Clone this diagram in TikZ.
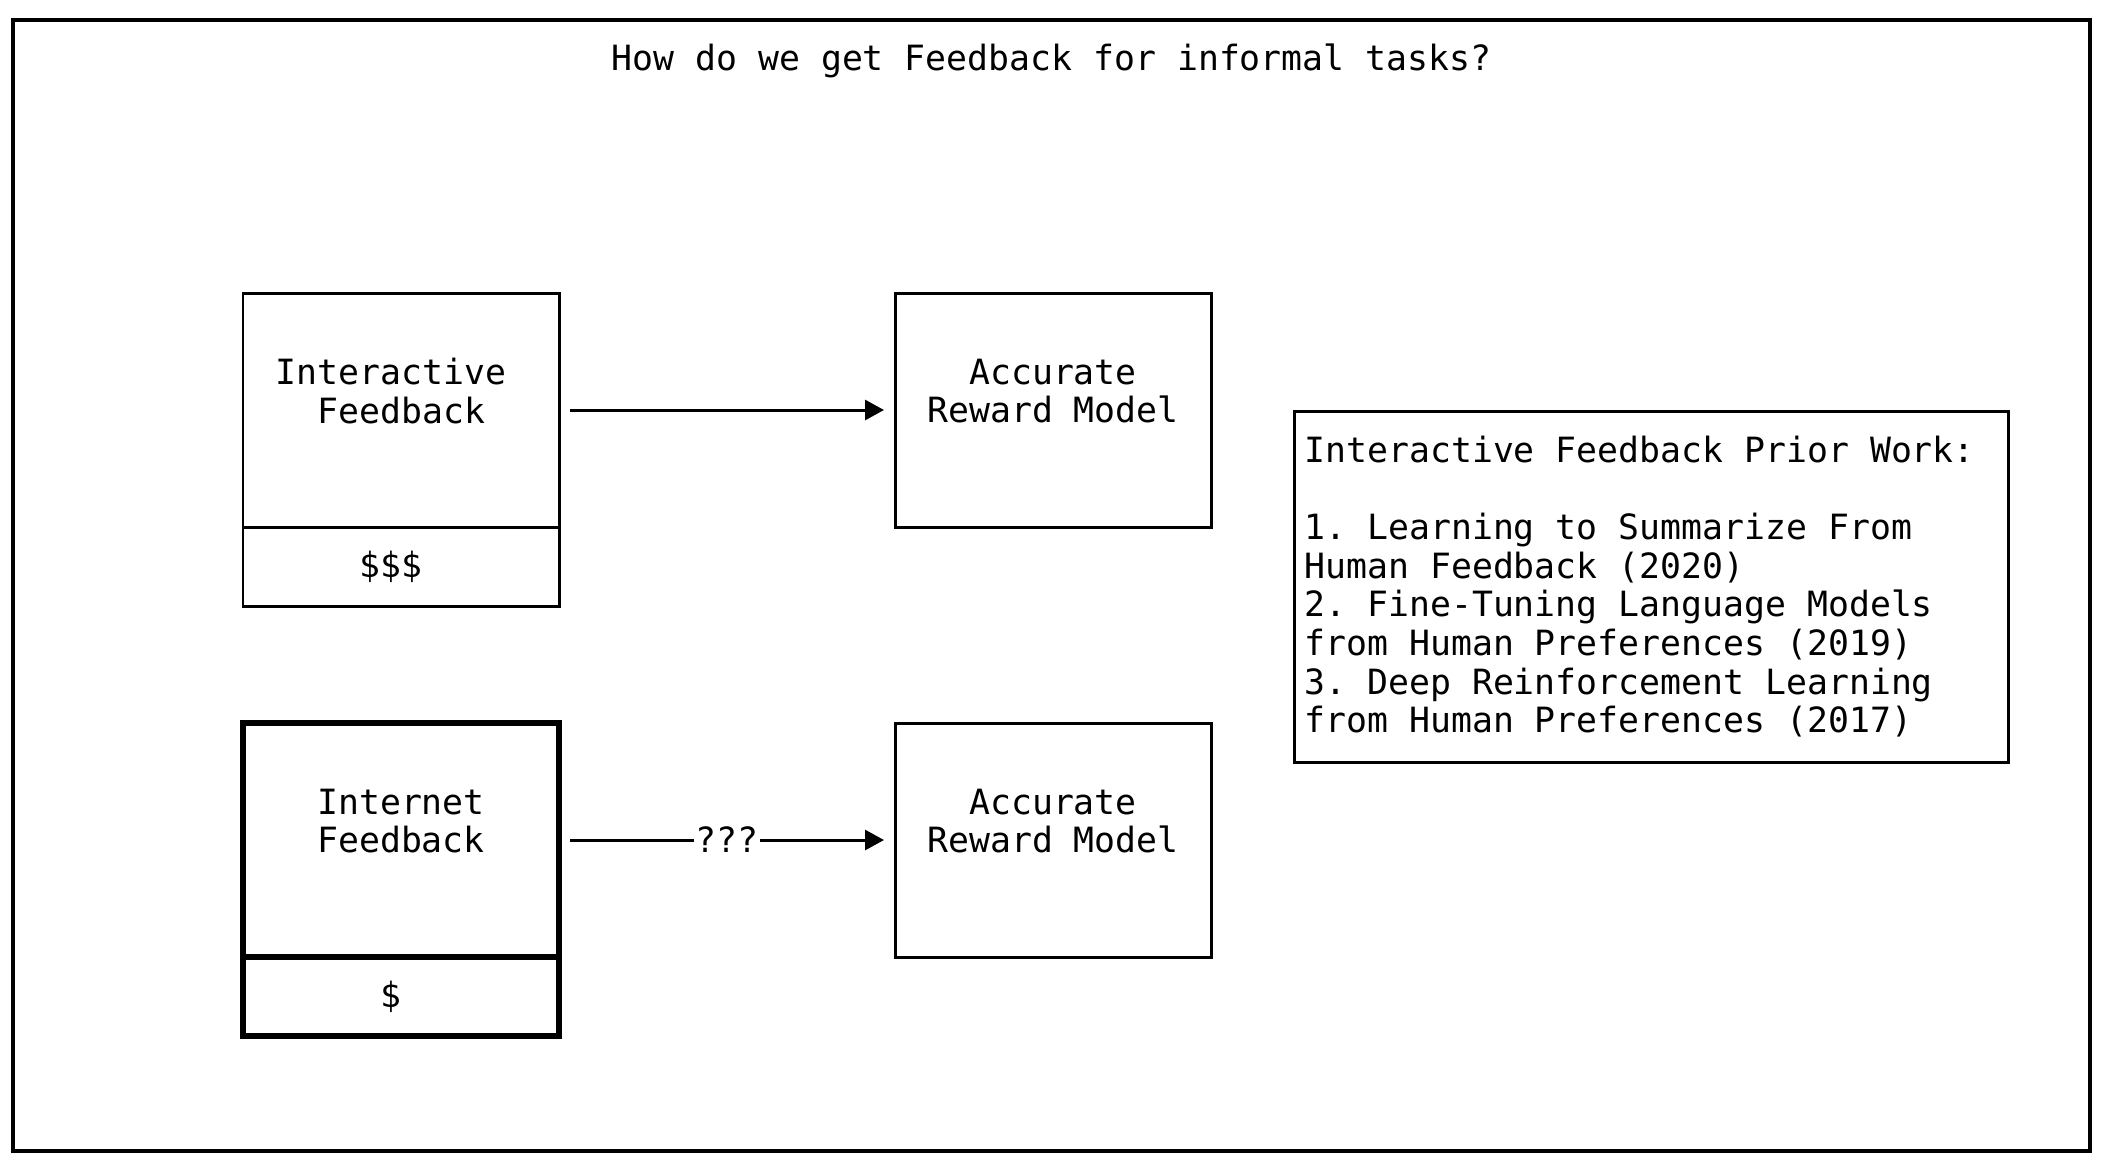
\documentclass[tikz,border=0pt]{standalone}
\usepackage{fontspec}
\setmonofont{DejaVu Sans Mono}
\usetikzlibrary{arrows.meta,positioning}

\begin{document}
\begin{tikzpicture}[
    x=0.1mm, y=-0.1mm,
    font=\ttfamily\fontsize{9.9}{11}\selectfont,
    node distance=33.6mm,
    fbbox/.style={rectangle, draw, line width=0.85pt, outer sep=0pt, minimum width=31.6mm, minimum height=23.4mm},
    costbox/.style={rectangle, draw, line width=0.85pt, outer sep=0pt, minimum width=31.6mm, minimum height=7.9mm},
    heavy/.style={line width=1.5pt},
    boxtext/.style={align=center, yshift=1.9mm},
    notebox/.style={rectangle, draw, line width=0.85pt, text width=69.3mm, align=flush left, inner xsep=1.05mm, minimum height=35.1mm},
    frame/.style={rectangle, draw, line width=0.9pt, minimum width=207.7mm, minimum height=113.1mm},
    arrow/.style={-{Triangle[length=1.9mm, width=2mm]}, line width=0.85pt, shorten <=1.1mm, shorten >=1.1mm}
]
    \useasboundingbox (0,0) rectangle (2103,1173);

    % Outer frame and title
    \node[frame] (frame) at (1051.5,585.5) {};
    \node (title) at (1051.5,61) {How do we get Feedback for informal tasks?};

    % Interactive feedback row
    \node[fbbox, label={[boxtext, xshift=-1mm]center:Interactive\\\phantom{x}Feedback}] (intfb) at (401,410) {};
    \node[costbox, below=0pt of intfb] (intcost) {\$\$\$\phantom{x}};
    \node[fbbox, label={[boxtext]center:Accurate\\Reward Model}, right=of intfb] (reward1) {};

    % Internet feedback row
    \node[fbbox, heavy, below=11.7mm of intcost, label={[boxtext]center:Internet\\Feedback}] (netfb) {};
    \node[costbox, heavy, below=0pt of netfb] (netcost) {\$\phantom{x}};
    \node[fbbox, label={[boxtext]center:Accurate\\Reward Model}, right=of netfb] (reward2) {};

    % Prior work
    \node[notebox] (prior) at (1651,586.5) {Interactive Feedback Prior Work:\\[11pt]
        1. Learning to Summarize From\\
        Human Feedback (2020)\\
        2. Fine-Tuning Language Models\\
        from Human Preferences (2019)\\
        3. Deep Reinforcement Learning\\
        from Human Preferences (2017)};

    % Arrows
    \draw[arrow] (intfb) -- (reward1);
    \draw[arrow] (netfb) -- node[fill=white, inner sep=0.5pt] (qq) {???} (reward2);
\end{tikzpicture}
\end{document}
